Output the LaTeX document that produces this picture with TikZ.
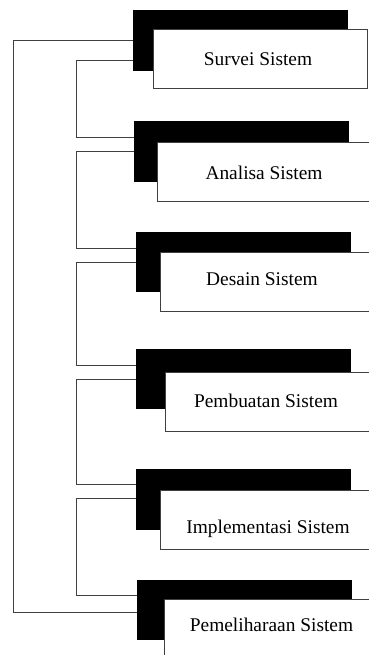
\documentclass[tikz,border=0pt]{standalone}
\usepackage{fontspec}
\setmainfont{Liberation Serif}
\begin{document}
\begin{tikzpicture}[x=1pt,y=-1pt,
  shadowbox/.style={fill=black, draw=none, inner sep=0, outer sep=0, anchor=north west, minimum width=215pt, minimum height=61pt},
  whitebox/.style={fill=white, draw=black!75, line width=0.9pt, inner sep=0, outer sep=0, anchor=north west, minimum height=59.5pt},
  lbl/.style={anchor=base, inner sep=0, font=\fontsize{19.4}{23}\selectfont},
  conn/.style={draw=black!75, line width=0.9pt}]
\useasboundingbox (0,0) rectangle (368,655);
% shadows
\node[shadowbox] (s1) at (133,10) {};
\node[shadowbox] (s2) at (134,121) {};
\node[shadowbox, minimum height=60pt] (s3) at (136,232) {};
\node[shadowbox, minimum height=60pt] (s4) at (136,349) {};
\node[shadowbox] (s5) at (136,469) {};
\node[shadowbox, minimum height=60pt] (s6) at (137,580) {};
% white boxes
\node[whitebox, minimum width=214pt] (b1) at (153,29) {};
\node[whitebox, minimum width=213pt] (b2) at (157,142) {};
\node[whitebox, minimum width=210pt] (b3) at (160,252) {};
\node[whitebox, minimum width=205pt] (b4) at (165,372) {};
\node[whitebox, minimum width=210pt] (b5) at (160,490) {};
\node[whitebox, minimum width=206pt, minimum height=70pt] (b6) at (164,599) {};
% labels
\node[lbl] (t1) at (258,65.5) {Survei Sistem};
\node[lbl] (t2) at (264,179.5) {Analisa Sistem};
\node[lbl] (t3) at (262,285) {Desain Sistem};
\node[lbl] (t4) at (266,407) {Pembuatan Sistem};
\node[lbl] (t5) at (268,533) {Implementasi Sistem};
\node[lbl] (t6) at (271.5,631) {Pemeliharaan Sistem};
% connectors
\coordinate (o1) at (s1.west |- 0,40);
\coordinate (o6) at (s6.west |- 0,612);
\draw[conn] (o1) -- (13,40) -- (13,612) -- (o6);
\coordinate (a1) at (s1.west |- 0,60);
\coordinate (a2) at (s2.west |- 0,137.5);
\draw[conn] (a1) -| (76,137.5) -- (a2);
\coordinate (c2) at (s2.west |- 0,151);
\coordinate (c3) at (s3.west |- 0,248);
\draw[conn] (c2) -| (76,248) -- (c3);
\coordinate (d3) at (s3.west |- 0,262);
\coordinate (d4) at (s4.west |- 0,365);
\draw[conn] (d3) -| (76,365) -- (d4);
\coordinate (e4) at (s4.west |- 0,379);
\coordinate (e5) at (s5.west |- 0,484);
\draw[conn] (e4) -| (76,484) -- (e5);
\coordinate (f5) at (s5.west |- 0,498);
\coordinate (f6) at (s6.west |- 0,595.5);
\draw[conn] (f5) -| (76,595.5) -- (f6);
\end{tikzpicture}
\end{document}
